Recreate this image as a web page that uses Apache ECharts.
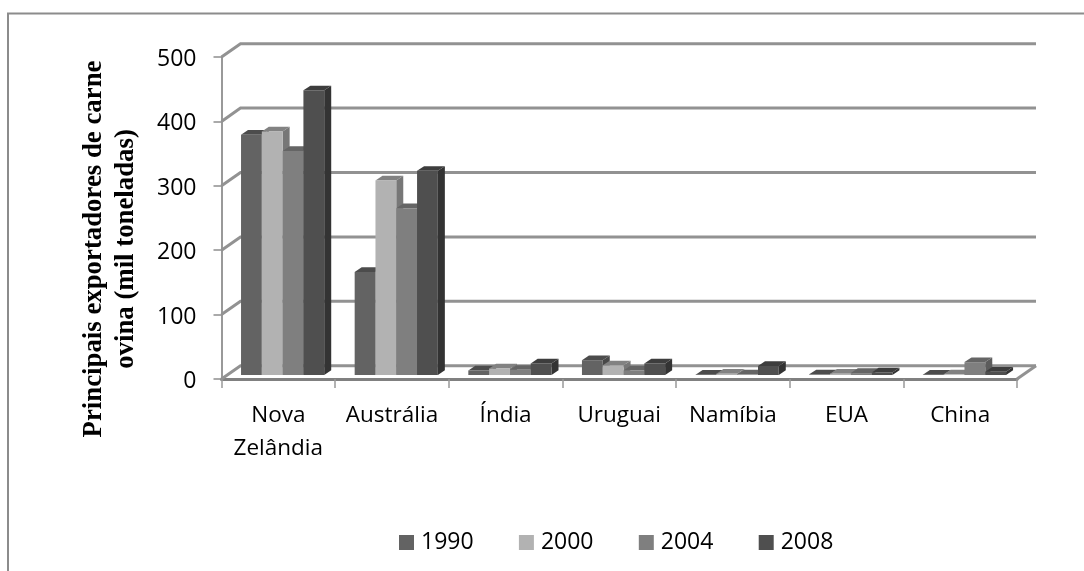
<!DOCTYPE html>
<html>
<head>
<meta charset="utf-8">
<style>html,body{margin:0;padding:0;background:#fff}#c{width:1084px;height:571px}</style>
<script src="https://cdn.jsdelivr.net/npm/echarts@6/dist/echarts.min.js"></script>
</head>
<body>
<div id="c"></div>
<script>
// Sheep meat exports by country, thousand tonnes
const categories = ['Nova\nZelândia', 'Austrália', 'Índia', 'Uruguai', 'Namíbia', 'EUA', 'China'];
const years = ['1990', '2000', '2004', '2008'];
const values1990 = [373, 160, 7, 23, 0.5, 1, 0.5];
const values2000 = [378, 302, 10, 15, 2, 2, 1];
const values2004 = [348, 259, 8, 7, 1, 3, 20];
const values2008 = [442, 317, 18, 18, 14, 4, 5];
const yTicks = [0, 100, 200, 300, 400, 500];

const fontFamily = '"Open Sans", sans-serif';
const faceColors = ['#636363', '#b2b2b2', '#7f7f7f', '#4f4f4f'];
const topColors = ['#4c4c4c', '#828282', '#656565', '#3d3d3d'];
const sideColors = ['#484848', '#777777', '#5c5c5c', '#333333'];

// Oblique projection of the plot: wall depth, and the bars' place inside it
const wallDepth = [19, -13.3];
const barInset = [6, -4];
const barDepth = [7, -4.7];
const barShare = 0.183;

function renderBar(seriesIndex) {
  return function (params, api) {
    const band = api.size([1, 0])[0];
    const w = band * barShare;
    const top = api.coord([api.value(0), api.value(1)]);
    const base = api.coord([api.value(0), 0]);
    const x0 = top[0] - 2 * w + w * seriesIndex + barInset[0] - 1.7;
    const x1 = x0 + w;
    const yt = top[1] + barInset[1];
    const yb = base[1] + barInset[1];
    const dx = barDepth[0], dy = barDepth[1];
    const poly = (points, fill) => ({ type: 'polygon', shape: { points }, style: { fill } });
    return {
      type: 'group',
      children: [
        poly([[x1, yb], [x1 + dx, yb + dy], [x1 + dx, yt + dy], [x1, yt]], sideColors[seriesIndex]),
        poly([[x0, yt], [x1, yt], [x1 + dx, yt + dy], [x0 + dx, yt + dy]], topColors[seriesIndex]),
        poly([[x0, yt], [x1, yt], [x1, yb], [x0, yb]], faceColors[seriesIndex])
      ]
    };
  };
}

// Side wall diagonals and back wall gridlines at each value tick
function renderWall(params, api) {
  const band = api.size([1, 0])[0];
  const p = api.coord([0, api.value(0)]);
  const xl = p[0] - band / 2;
  const xr = api.coord([categories.length - 1, 0])[0] + band / 2;
  const y = p[1];
  const children = [{
    type: 'polyline',
    shape: { points: [[xl, y], [xl + wallDepth[0], y + wallDepth[1]], [xr + wallDepth[0], y + wallDepth[1]]] },
    style: { stroke: '#929292', lineWidth: 3, fill: null }
  }];
  if (api.value(0) === 0) {
    children.push({
      type: 'line',
      shape: { x1: xr, y1: y, x2: xr + wallDepth[0], y2: y + wallDepth[1] },
      style: { stroke: '#929292', lineWidth: 3 }
    });
  }
  return { type: 'group', children };
}

const barSeries = [values1990, values2000, values2004, values2008].map((vals, i) => ({
  name: years[i],
  type: 'custom',
  z: 3,
  clip: false,
  renderItem: renderBar(i),
  itemStyle: { color: faceColors[i] },
  encode: { x: 0, y: 1 },
  data: vals.map((v, c) => [c, v])
}));

const chart = echarts.init(document.getElementById('c'), null, { renderer: 'canvas' });
chart.setOption({
  animation: false,
  backgroundColor: '#fff',
  grid: { left: 221.5, right: 67, top: 57, bottom: 192, containLabel: false },
  xAxis: {
    type: 'category',
    data: categories,
    boundaryGap: true,
    axisLine: { show: true, lineStyle: { color: '#808080', width: 3 } },
    axisTick: { show: true, alignWithLabel: false, length: 9, lineStyle: { color: '#999', width: 1.5 } },
    axisLabel: { interval: 0, margin: 20, color: '#000', fontFamily, fontSize: 22.5, lineHeight: 33 }
  },
  yAxis: {
    type: 'value',
    min: 0,
    max: 500,
    interval: 100,
    splitLine: { show: false },
    axisLine: { show: true, lineStyle: { color: '#999', width: 2 } },
    axisTick: { show: true, length: 8, lineStyle: { color: '#8e8e8e', width: 1.5 } },
    axisLabel: {
      margin: 25,
      formatter: '{t|{value}}',
      rich: { t: { color: '#000', fontFamily, fontSize: 23, padding: [5, 0, 0, 0] } }
    }
  },
  legend: {
    data: years,
    left: 399,
    top: 531,
    padding: 0,
    icon: 'rect',
    itemWidth: 15,
    itemHeight: 15,
    itemGap: 45.3,
    selectedMode: false,
    textStyle: { color: '#000', fontFamily, fontSize: 23, padding: [0, 0, 0, 2] }
  },
  graphic: [
    {
      type: 'polyline',
      silent: true,
      shape: { points: [[8, 571], [8, 13.5], [1084, 13.5]] },
      style: { stroke: '#8c8c8c', lineWidth: 2, fill: null }
    },
    {
      type: 'text',
      silent: true,
      x: 110,
      y: 249,
      rotation: Math.PI / 2,
      style: {
        text: 'Principais exportadores de carne\novina (mil toneladas)',
        font: 'bold 26.8px "Liberation Serif", serif',
        fill: '#000',
        align: 'center',
        verticalAlign: 'middle',
        lineHeight: 32
      }
    }
  ],
  series: [{
    type: 'custom',
    z: 1,
    clip: false,
    silent: true,
    renderItem: renderWall,
    encode: { x: 1, y: 0 },
    data: yTicks.map(t => [t, 0])
  }].concat(barSeries)
});
</script>
</body>
</html>
